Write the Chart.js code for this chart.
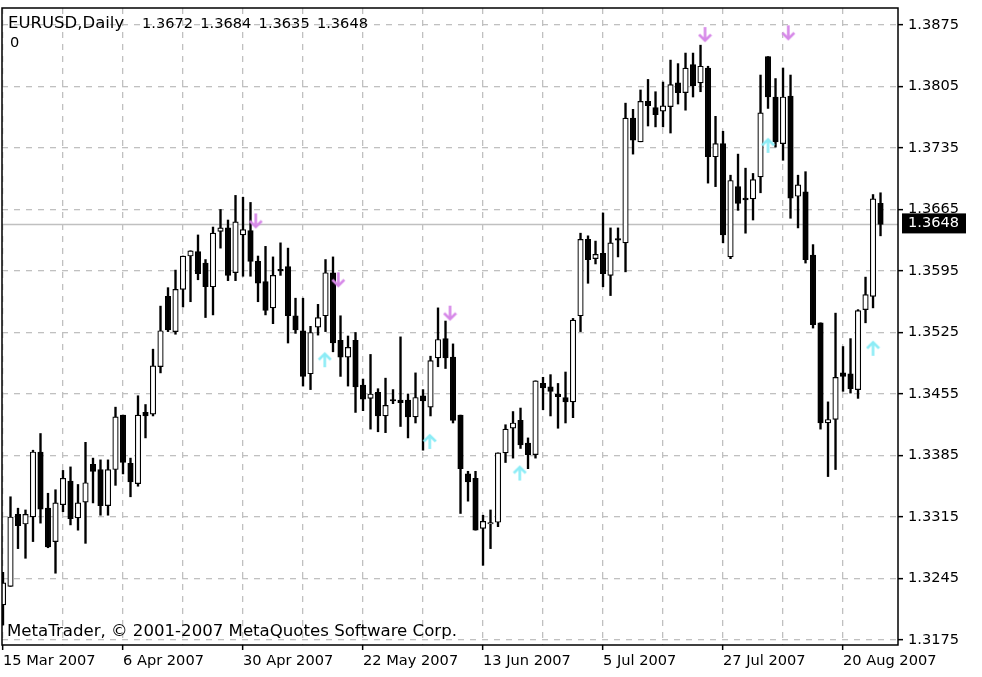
<!DOCTYPE html>
<html>
<head>
<meta charset="utf-8">
<script src="https://cdn.jsdelivr.net/npm/chart.js@4.4.0/dist/chart.umd.min.js"></script>
<style>
  html, body { margin: 0; padding: 0; background: #fff; }
  #wrap { width: 982px; height: 677px; }
</style>
</head>
<body>
<div id="wrap"><canvas id="chart" width="982" height="677"></canvas></div>
<script>
// Textos
const symbolTitle = 'EURUSD,Daily';
const subWindowLabel = '0';
const copyright = 'MetaTrader, © 2001-2007 MetaQuotes Software Corp.';

// Eixos
const dateLabels = ['15 Mar 2007', '6 Apr 2007', '30 Apr 2007', '22 May 2007',
                    '13 Jun 2007', '5 Jul 2007', '27 Jul 2007', '20 Aug 2007'];
const gridBars = [0, 8, 16, 24, 32, 40, 48, 56, 64, 72, 80, 88, 96, 104, 112];
const priceTicks = [1.3175, 1.3245, 1.3315, 1.3385, 1.3455, 1.3525,
                    1.3595, 1.3665, 1.3735, 1.3805, 1.3875];

// OHLC diário
const openP = [
  1.3215, 1.3236, 1.3318, 1.3307, 1.3315, 1.3389, 1.3325, 1.3287, 1.3329, 1.3356,
  1.3314, 1.3332, 1.3375, 1.3369, 1.3328, 1.3369, 1.3431, 1.3376, 1.3353, 1.3434,
  1.3432, 1.3486, 1.3566, 1.3526, 1.3574, 1.3612, 1.3617, 1.3604, 1.3577, 1.3640,
  1.3644, 1.3593, 1.3636, 1.3641, 1.3606, 1.3583, 1.3553, 1.3597, 1.3600, 1.3544,
  1.3527, 1.3478, 1.3531, 1.3544, 1.3593, 1.3516, 1.3497, 1.3516, 1.3465, 1.3450,
  1.3457, 1.3430, 1.3448, 1.3448, 1.3448, 1.3429, 1.3453, 1.3440, 1.3496, 1.3518,
  1.3497, 1.3431, 1.3364, 1.3359, 1.3302, 1.3307, 1.3309, 1.3388, 1.3416, 1.3425,
  1.3399, 1.3386, 1.3467, 1.3463, 1.3455, 1.3451, 1.3446, 1.3544, 1.3631, 1.3609,
  1.3615, 1.3590, 1.3632, 1.3627, 1.3769, 1.3742, 1.3788, 1.3781, 1.3777, 1.3782,
  1.3809, 1.3798, 1.3830, 1.3809, 1.3826, 1.3725, 1.3740, 1.3611, 1.3691, 1.3678,
  1.3677, 1.3702, 1.3839, 1.3793, 1.3740, 1.3794, 1.3680, 1.3685, 1.3613, 1.3536,
  1.3422, 1.3426, 1.3479, 1.3478, 1.3460, 1.3551, 1.3566, 1.3672
];
const highP = [
  1.3252, 1.3338, 1.3325, 1.3323, 1.3391, 1.3410, 1.3342, 1.3346, 1.3368, 1.3372,
  1.3352, 1.3400, 1.3382, 1.3380, 1.3380, 1.3440, 1.3431, 1.3382, 1.3453, 1.3443,
  1.3506, 1.3555, 1.3576, 1.3596, 1.3612, 1.3618, 1.3636, 1.3608, 1.3645, 1.3665,
  1.3653, 1.3681, 1.3679, 1.3673, 1.3612, 1.3623, 1.3611, 1.3627, 1.3621, 1.3564,
  1.3564, 1.3532, 1.3557, 1.3608, 1.3611, 1.3544, 1.3521, 1.3525, 1.3472, 1.3500,
  1.3461, 1.3473, 1.3460, 1.3520, 1.3455, 1.3479, 1.3460, 1.3498, 1.3553, 1.3538,
  1.3512, 1.3431, 1.3367, 1.3367, 1.3317, 1.3323, 1.3388, 1.3420, 1.3435, 1.3439,
  1.3405, 1.3470, 1.3474, 1.3477, 1.3467, 1.3480, 1.3541, 1.3638, 1.3635, 1.3629,
  1.3661, 1.3644, 1.3644, 1.3786, 1.3779, 1.3801, 1.3813, 1.3799, 1.3810, 1.3835,
  1.3831, 1.3843, 1.3843, 1.3852, 1.3828, 1.3771, 1.3754, 1.3704, 1.3728, 1.3712,
  1.3706, 1.3818, 1.3839, 1.3814, 1.3826, 1.3818, 1.3704, 1.3708, 1.3625, 1.3536,
  1.3446, 1.3547, 1.3509, 1.3518, 1.3551, 1.3588, 1.3682, 1.3684
];
const lowP = [
  1.3192, 1.3236, 1.3279, 1.3268, 1.3287, 1.3308, 1.3280, 1.3251, 1.3321, 1.3306,
  1.3300, 1.3285, 1.3331, 1.3317, 1.3317, 1.3351, 1.3364, 1.3338, 1.3350, 1.3405,
  1.3430, 1.3479, 1.3526, 1.3523, 1.3554, 1.3560, 1.3585, 1.3542, 1.3545, 1.3621,
  1.3584, 1.3584, 1.3589, 1.3589, 1.3560, 1.3545, 1.3535, 1.3590, 1.3513, 1.3524,
  1.3464, 1.3460, 1.3522, 1.3526, 1.3503, 1.3475, 1.3464, 1.3434, 1.3436, 1.3415,
  1.3412, 1.3411, 1.3444, 1.3418, 1.3405, 1.3422, 1.3391, 1.3430, 1.3486, 1.3484,
  1.3422, 1.3319, 1.3333, 1.3300, 1.3260, 1.3279, 1.3304, 1.3377, 1.3382, 1.3393,
  1.3370, 1.3382, 1.3437, 1.3430, 1.3416, 1.3422, 1.3428, 1.3526, 1.3581, 1.3603,
  1.3577, 1.3567, 1.3611, 1.3594, 1.3728, 1.3742, 1.3760, 1.3759, 1.3759, 1.3752,
  1.3785, 1.3778, 1.3793, 1.3799, 1.3695, 1.3691, 1.3627, 1.3609, 1.3664, 1.3638,
  1.3653, 1.3684, 1.3780, 1.3736, 1.3721, 1.3655, 1.3644, 1.3604, 1.3530, 1.3415,
  1.3361, 1.3369, 1.3458, 1.3456, 1.3450, 1.3536, 1.3553, 1.3635
];
const closeP = [
  1.3240, 1.3315, 1.3305, 1.3318, 1.3389, 1.3324, 1.3281, 1.3331, 1.3359, 1.3313,
  1.3331, 1.3354, 1.3367, 1.3328, 1.3369, 1.3429, 1.3377, 1.3355, 1.3431, 1.3430,
  1.3487, 1.3527, 1.3528, 1.3574, 1.3612, 1.3618, 1.3592, 1.3577, 1.3638, 1.3644,
  1.3590, 1.3651, 1.3642, 1.3606, 1.3581, 1.3550, 1.3590, 1.3595, 1.3544, 1.3528,
  1.3475, 1.3525, 1.3542, 1.3593, 1.3513, 1.3497, 1.3508, 1.3463, 1.3449, 1.3455,
  1.3430, 1.3442, 1.3447, 1.3445, 1.3429, 1.3451, 1.3447, 1.3493, 1.3517, 1.3496,
  1.3425, 1.3370, 1.3355, 1.3300, 1.3310, 1.3308, 1.3388, 1.3415, 1.3422, 1.3397,
  1.3386, 1.3470, 1.3462, 1.3458, 1.3452, 1.3446, 1.3539, 1.3631, 1.3608, 1.3614,
  1.3592, 1.3627, 1.3630, 1.3769, 1.3744, 1.3788, 1.3783, 1.3773, 1.3783, 1.3807,
  1.3798, 1.3826, 1.3806, 1.3828, 1.3725, 1.3740, 1.3636, 1.3698, 1.3672, 1.3676,
  1.3699, 1.3775, 1.3793, 1.3742, 1.3793, 1.3678, 1.3693, 1.3608, 1.3534, 1.3422,
  1.3426, 1.3474, 1.3475, 1.3461, 1.3550, 1.3568, 1.3677, 1.3648
];

// Setas do indicador (posição em barras / preço)
const downArrowX = [33.7, 44.7, 59.6, 93.6, 104.7];
const downArrowY = [1.3652, 1.3585, 1.3547, 1.3864, 1.3866];
const upArrowX = [42.9, 56.9, 68.9, 102.0, 116.0];
const upArrowY = [1.3494, 1.3401, 1.3365, 1.3738, 1.3507];

const FONT = "'DejaVu Sans', sans-serif";
Chart.defaults.font.family = FONT;
Chart.defaults.color = '#000';

const bars = openP.map((_, i) => i);
const last = bars.length - 1;

// Seta desenhada num canvas pequeno, usada como pointStyle
function makeArrow(color, down) {
    const c = document.createElement('canvas');
    c.width = 15; c.height = 17;
    const g = c.getContext('2d');
    if (!down) { g.translate(0, 17); g.scale(1, -1); }
    g.strokeStyle = color;
    g.lineWidth = 2.6;
    g.beginPath(); g.moveTo(7.5, 1); g.lineTo(7.5, 15); g.stroke();
    g.beginPath(); g.moveTo(1.5, 8.5); g.lineTo(7.5, 14.5); g.lineTo(13.5, 8.5); g.stroke();
    return c;
}

const chartDecor = {
    id: 'chartDecor',
    beforeDatasetsDraw(chart) {
        const { ctx, chartArea: a, scales } = chart;
        const y = scales.y.getPixelForValue(closeP[last]);
        ctx.save();
        ctx.strokeStyle = '#c0c0c0';
        ctx.lineWidth = 1.5;
        ctx.beginPath(); ctx.moveTo(a.left, y); ctx.lineTo(a.right, y); ctx.stroke();
        ctx.restore();
    },
    afterDraw(chart) {
        const { ctx, chartArea: a, scales } = chart;
        ctx.save();
        // moldura
        ctx.strokeStyle = '#000';
        ctx.lineWidth = 1.5;
        ctx.strokeRect(a.left, a.top, a.right - a.left, a.bottom - a.top);

        // cabeçalho
        ctx.fillStyle = '#000';
        ctx.textBaseline = 'middle';
        ctx.font = '16.5px ' + FONT;
        ctx.fillText(symbolTitle, 8, 24);
        ctx.font = '14.6px ' + FONT;
        [openP[last], highP[last], lowP[last], closeP[last]].forEach((v, k) => {
            ctx.fillText(v.toFixed(4), 142 + k * 58.3, 24);
        });
        ctx.fillText(subWindowLabel, 10, 43);

        ctx.font = '16.6px ' + FONT;
        ctx.fillText(copyright, 7, 632);

        // etiqueta do preço atual
        const y = scales.y.getPixelForValue(closeP[last]);
        ctx.fillStyle = '#000';
        ctx.fillRect(a.right + 4, y - 11, 64, 20);
        ctx.fillStyle = '#fff';
        ctx.font = '14.6px ' + FONT;
        ctx.fillText(closeP[last].toFixed(4), a.right + 10, y - 1);
        ctx.restore();
    }
};

new Chart(document.getElementById('chart'), {
    type: 'bar',
    data: {
        datasets: [
            {
                type: 'line',
                data: downArrowX.map((x, k) => ({ x, y: downArrowY[k] })),
                showLine: false,
                pointStyle: makeArrow('rgb(214,136,232)', true),
                pointRadius: 8,
                order: 0
            },
            {
                type: 'line',
                data: upArrowX.map((x, k) => ({ x, y: upArrowY[k] })),
                showLine: false,
                pointStyle: makeArrow('rgb(140,236,246)', false),
                pointRadius: 8,
                order: 0
            },
            {
                data: bars.map(i => ({ x: i, y: [openP[i], closeP[i]] })),
                backgroundColor: bars.map(i => closeP[i] >= openP[i] ? '#fff' : '#000'),
                borderColor: '#000',
                borderWidth: 1.2,
                borderSkipped: false,
                barThickness: 5.5,
                minBarLength: 1.5,
                grouped: false,
                clip: 0,
                order: 1
            },
            {
                data: bars.map(i => ({ x: i, y: [lowP[i], highP[i]] })),
                backgroundColor: '#000',
                barThickness: 1.7,
                grouped: false,
                clip: 0,
                order: 2
            }
        ]
    },
    options: {
        responsive: false,
        animation: false,
        layout: { autoPadding: false, padding: { left: 2, top: 8, right: 0, bottom: 0 } },
        plugins: { legend: { display: false }, tooltip: { enabled: false } },
        scales: {
            x: {
                type: 'linear',
                min: -0.133,
                max: 119.33,
                offset: false,
                afterBuildTicks: s => { s.ticks = gridBars.map(v => ({ value: v })); },
                afterFit: s => { s.height = 32; s.paddingLeft = 0; s.paddingRight = 0; },
                ticks: {
                    autoSkip: false,
                    maxRotation: 0,
                    align: 'start',
                    padding: 2,
                    font: { size: 14.6 },
                    callback: v => (v % 16 === 0 ? dateLabels[v / 16] : '')
                },
                grid: {
                    offset: false,
                    color: '#c0c0c0',
                    lineWidth: 1.3,
                    tickLength: 5,
                    tickWidth: 1.5,
                    tickBorderDash: [],
                    tickColor: c => (c.tick && c.tick.value % 16 === 0 ? '#000' : 'rgba(0,0,0,0)')
                },
                border: { display: false, dash: [6, 6] }
            },
            y: {
                position: 'right',
                min: 1.31693,
                max: 1.38943,
                afterBuildTicks: s => { s.ticks = priceTicks.map(v => ({ value: v })); },
                afterFit: s => { s.width = 84; s.paddingTop = 0; s.paddingBottom = 0; },
                ticks: {
                    padding: 5,
                    font: { size: 14.6 },
                    callback: v => v.toFixed(4)
                },
                grid: {
                    color: '#c0c0c0',
                    lineWidth: 1.3,
                    tickLength: 5,
                    tickWidth: 1.5,
                    tickBorderDash: [],
                    tickColor: '#000'
                },
                border: { display: false, dash: [6, 6] }
            }
        }
    },
    plugins: [chartDecor]
});
</script>
</body>
</html>
